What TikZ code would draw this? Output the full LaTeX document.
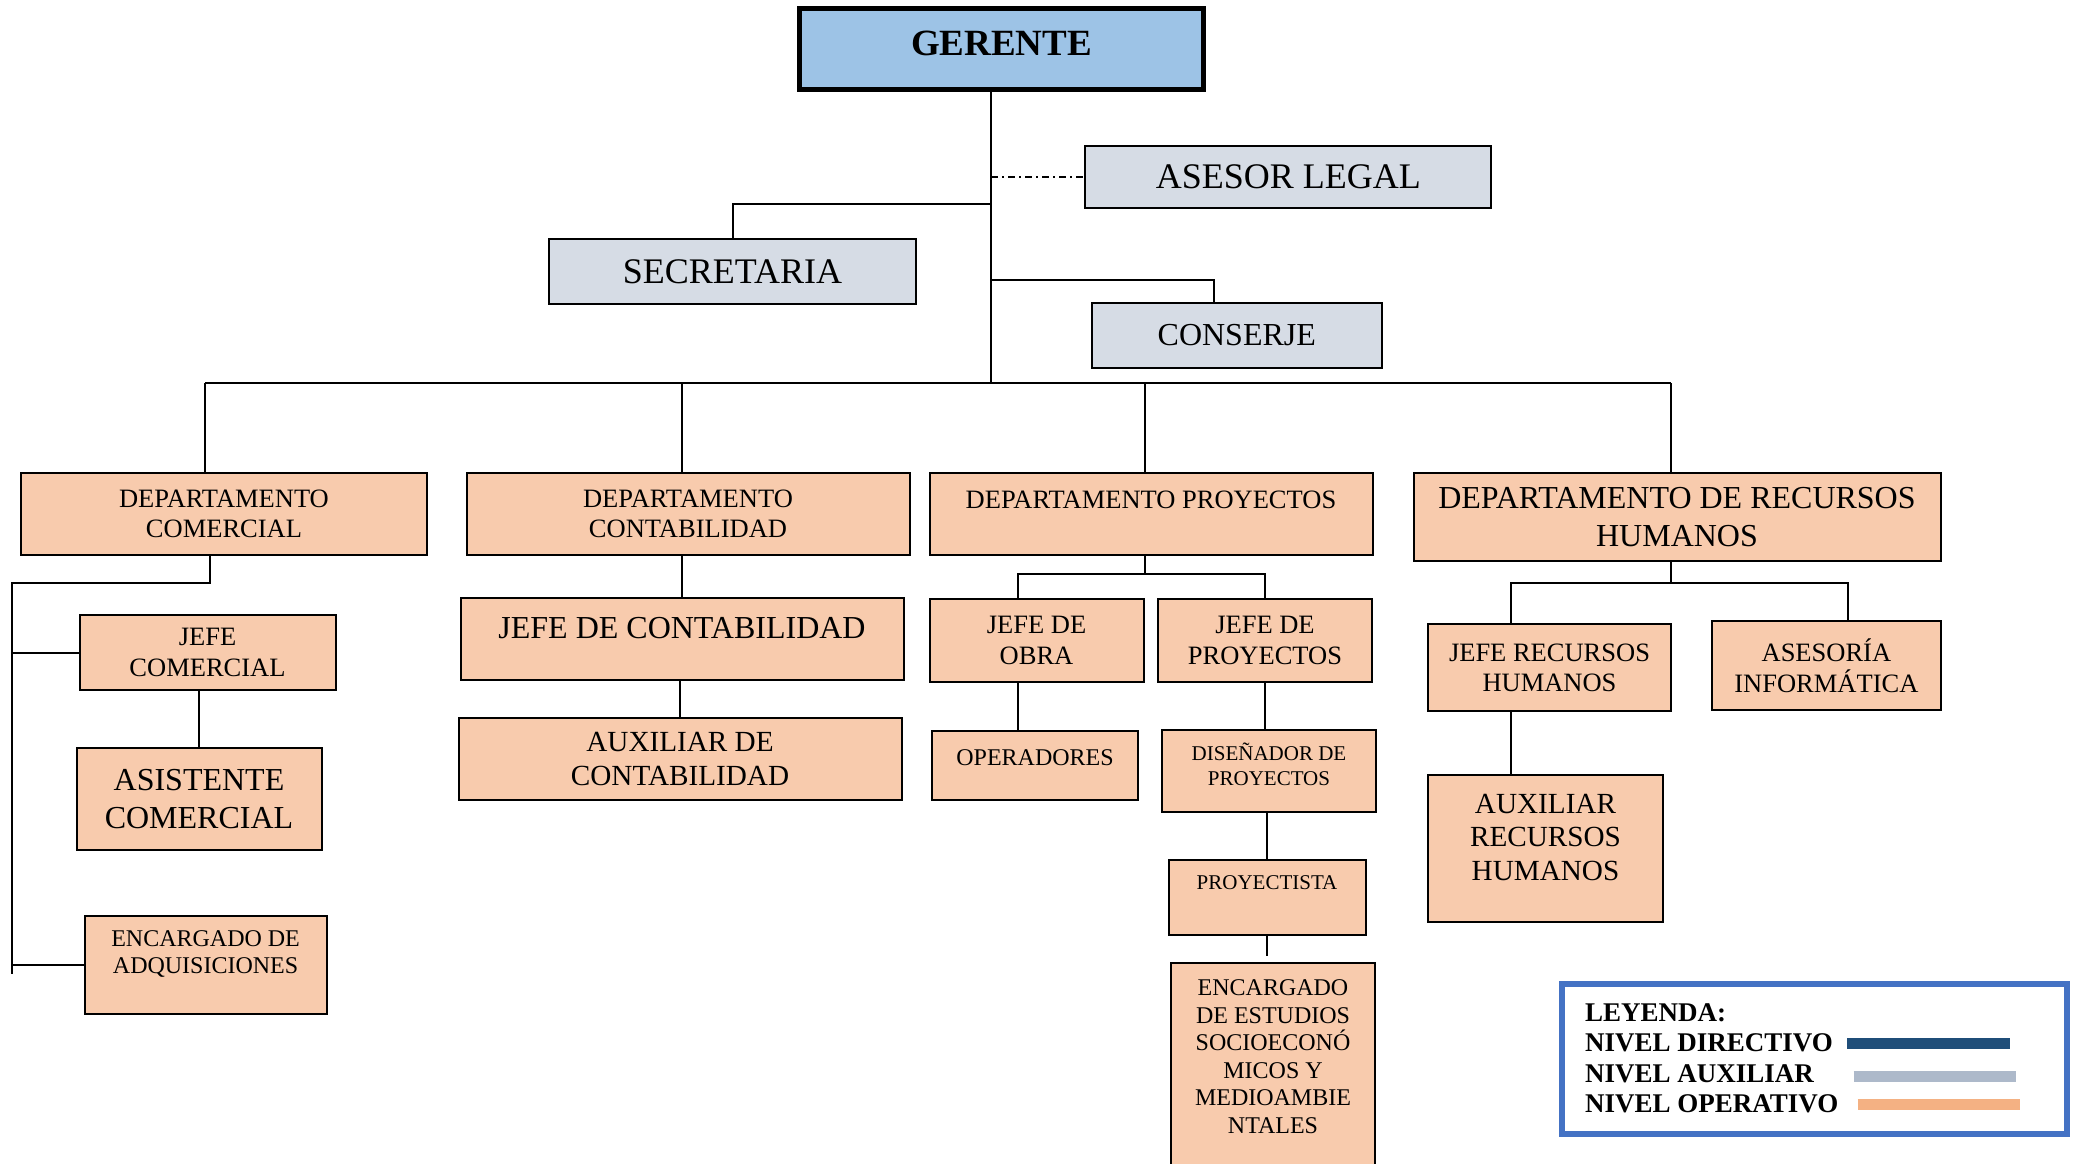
\documentclass[tikz,border=0pt]{standalone}
\usepackage{fontspec}
\setmainfont{Liberation Serif}

\definecolor{dirfill}{HTML}{9DC3E6}
\definecolor{auxfill}{HTML}{D6DCE5}
\definecolor{opfill}{HTML}{F8CBAD}
\definecolor{legblue}{HTML}{4472C4}
\definecolor{legdir}{HTML}{1F4E79}
\definecolor{legaux}{HTML}{ADB9CA}
\definecolor{legop}{HTML}{F4B183}

\begin{document}
\begin{tikzpicture}[
    x=1pt, y=-1pt,
    every node/.style={inner sep=0pt},
    box/.style={rectangle, draw, line width=2pt, align=center},
    dirbox/.style={box, fill=dirfill, line width=5pt, font=\bfseries\fontsize{37}{44}\selectfont},
    auxbox/.style={box, fill=auxfill},
    opbox/.style={box, fill=opfill},
    link/.style={line width=2pt},
    fs21/.style={font=\fontsize{21}{25}\selectfont},
    fs24/.style={font=\fontsize{24}{27.6}\selectfont},
    fs265/.style={font=\fontsize{26.5}{30.4}\selectfont},
    fs29/.style={font=\fontsize{29.2}{33.5}\selectfont},
    fs32/.style={font=\fontsize{32}{37.5}\selectfont},
    fs36/.style={font=\fontsize{36}{42}\selectfont}
]
\useasboundingbox (0,0) rectangle (2073,1164);
\clip (0,0) rectangle (2073,1164);

% Nodes
\node[dirbox, minimum width=404pt, minimum height=81pt, text depth=12pt] (gerente) at (1001.5,49.5) {GERENTE};
\node[auxbox, fs36, minimum width=406pt, minimum height=62pt] (asesor) at (1288.4,176.5) {ASESOR LEGAL};
\node[auxbox, fs36, minimum width=367pt, minimum height=65pt] (secretaria) at (732.5,271.7) {SECRETARIA};
\node[auxbox, fs32, minimum width=290pt, minimum height=65pt] (conserje) at (1236.8,335) {CONSERJE};

\node[opbox, fs265, minimum width=406pt, minimum height=82pt] (dcom) at (224,514) {DEPARTAMENTO\\COMERCIAL};
\node[opbox, fs265, minimum width=443pt, minimum height=82pt] (dcon) at (688,514) {DEPARTAMENTO\\CONTABILIDAD};
\node[opbox, fs265, minimum width=443pt, minimum height=82pt, text depth=28pt] (dpro) at (1151,514) {DEPARTAMENTO PROYECTOS};
\node[opbox, fs32, minimum width=527pt, minimum height=88pt] (drh) at (1677,517) {DEPARTAMENTO DE RECURSOS\\HUMANOS};

\node[opbox, fs265, minimum width=256pt, minimum height=75pt] (jcom) at (207.5,652.5) {JEFE\\COMERCIAL};
\node[opbox, fs32, minimum width=245pt, minimum height=102pt] (acom) at (199,799) {ASISTENTE\\COMERCIAL};
\node[opbox, fs24, minimum width=242pt, minimum height=98pt, text depth=26pt] (eadq) at (205.6,965) {ENCARGADO DE\\ADQUISICIONES};

\node[opbox, fs32, minimum width=443pt, minimum height=82pt, text depth=21pt] (jcon) at (682,638.6) {JEFE DE CONTABILIDAD};
\node[opbox, fs29, minimum width=443pt, minimum height=82pt] (acon) at (680,759) {AUXILIAR DE\\CONTABILIDAD};

\node[opbox, fs265, minimum width=214pt, minimum height=83pt] (jobra) at (1036.5,640.5) {JEFE DE\\OBRA};
\node[opbox, fs265, minimum width=214pt, minimum height=83pt] (jproy) at (1265,640.5) {JEFE DE\\PROYECTOS};
\node[opbox, fs24, minimum width=206pt, minimum height=69pt, text depth=16pt] (oper) at (1035,765.5) {OPERADORES};
\node[opbox, fs21, minimum width=214pt, minimum height=82pt, text depth=14pt] (disen) at (1269,771) {DISEÑADOR DE\\PROYECTOS};
\node[opbox, fs21, minimum width=197pt, minimum height=75pt, text depth=28pt] (proyt) at (1267,897) {PROYECTISTA};
\node[opbox, fs24, minimum width=204pt, minimum height=240pt, text depth=52pt] (eest) at (1273,1082.5) {ENCARGADO\\DE ESTUDIOS\\SOCIOECONÓ\\MICOS Y\\MEDIOAMBIE\\NTALES};

\node[opbox, fs265, minimum width=243pt, minimum height=87pt] (jrh) at (1549.5,667.6) {JEFE RECURSOS\\HUMANOS};
\node[opbox, fs265, minimum width=229pt, minimum height=89pt] (asinf) at (1826.4,665.7) {ASESORÍA\\INFORMÁTICA};
\node[opbox, fs29, minimum width=235pt, minimum height=147pt, text depth=22pt] (arh) at (1545.5,848) {AUXILIAR\\RECURSOS\\HUMANOS};

% Legend
\node[draw=legblue, line width=6pt, minimum width=505pt, minimum height=150pt] (legend) at (1814.5,1059) {};
\node[anchor=north west, align=left, font=\bfseries\fontsize{27}{30.5}\selectfont] (legtext) at (1585,1003) {LEYENDA:\\NIVEL DIRECTIVO\\NIVEL AUXILIAR\\NIVEL OPERATIVO};
\draw[line width=11pt, legdir] (1847,1043.5) -- (2009.5,1043.5);
\draw[line width=11pt, legaux] (1853.5,1076) -- (2016,1076);
\draw[line width=11pt, legop] (1857.5,1104.5) -- (2020,1104.5);

% Edges
\coordinate (trunk) at (991,383);
\coordinate (tsec) at (991,204);
\coordinate (tcon) at (991,280);
\coordinate (busL) at (205,383);
\coordinate (busR) at (1671,383);

\draw[link] (gerente.south -| trunk) -- (trunk);
\draw[link, dash pattern=on 7pt off 4pt on 2pt off 4pt] (asesor.west -| trunk) -- (asesor.west);
\draw[link] (secretaria.north) |- (tsec);
\draw[link] (tcon) -| ([xshift=-23pt]conserje.north);
\draw[link] (busL) -- (busR);
\draw[link] (busL) -- (busL |- dcom.north);
\draw[link] ([xshift=-6pt]dcon.north) -- ([xshift=-6pt]dcon.north |- busL);
\draw[link] ([xshift=-6pt]dpro.north) -- ([xshift=-6pt]dpro.north |- busL);
\draw[link] (busR) -- (busR |- drh.north);

% comercial
\coordinate (cTop) at (12,583);
\coordinate (cBot) at (12,974);
\draw[link] ([xshift=-14pt]dcom.south) |- (cTop) -- (cBot);
\draw[link] (cBot |- jcom.west) -- (jcom.west);
\draw[link] (cBot |- eadq.west) -- (eadq.west);
\draw[link] (jcom.south -| acom.north) -- (acom.north);

% contabilidad
\draw[link] (dcon.south -| jcon.north) -- (jcon.north);
\draw[link] (jcon.south -| acon.north) -- (acon.north);

% proyectos
\coordinate (pbar) at (1145,574);
\draw[link] (pbar |- dpro.south) -- (pbar);
\draw[link] ([xshift=-18.5pt]jobra.north) |- (pbar) -| (jproy.north);
\draw[link] ([xshift=-18.5pt]jobra.south) -- ([xshift=-18.5pt]jobra.south |- oper.north);
\draw[link] (jproy.south) -- (jproy.south |- disen.north);
\draw[link] (disen.south -| proyt.north) -- (proyt.north);
\draw[link] (proyt.south) -- ++(0,20);

% recursos humanos
\coordinate (rbar) at (1671,583);
\draw[link] (rbar |- drh.south) -- (rbar);
\draw[link] ([xshift=-38.5pt]jrh.north) |- (rbar) -| ([xshift=22pt]asinf.north);
\draw[link] ([xshift=-38.5pt]jrh.south) -- ([xshift=-38.5pt]jrh.south |- arh.north);

\end{tikzpicture}
\end{document}
